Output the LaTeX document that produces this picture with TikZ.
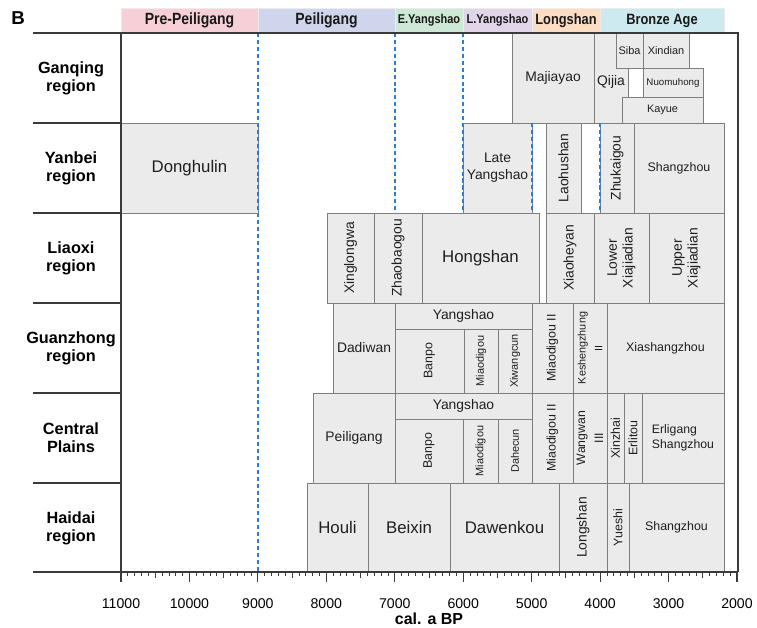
\documentclass[tikz,border=0pt]{standalone}
\usepackage{fontspec}
\usepackage{graphicx}
\setmainfont{Liberation Sans}
\definecolor{boxfill}{HTML}{EBEBEC}
\definecolor{boxline}{HTML}{7E7E7E}
\definecolor{frameline}{HTML}{3A3A3A}
\definecolor{dashblue}{HTML}{2A7FD0}
\definecolor{hPre}{HTML}{F7CFD6}
\definecolor{hPei}{HTML}{CFD5EA}
\definecolor{hEY}{HTML}{CDE8D5}
\definecolor{hLY}{HTML}{E0D5E9}
\definecolor{hLS}{HTML}{FCDCC3}
\definecolor{hBA}{HTML}{CDEAF0}
\tikzset{
  boxst/.style={fill=boxfill, draw=boxline, line width=0.75pt},
  lbl/.style={inner sep=0pt, align=center, text=black!88},
  vert/.style={lbl, rotate=90},
  fXL/.style={font=\fontsize{12.6}{14}\selectfont},
  fL/.style={font=\fontsize{10.4}{12.8}\selectfont},
  fM/.style={font=\fontsize{9.3}{11.5}\selectfont},
  fS/.style={font=\fontsize{8.2}{10}\selectfont},
  fXS/.style={font=\fontsize{7.3}{9}\selectfont},
  region/.style={inner sep=0pt, align=center, font=\bfseries\fontsize{12.2}{13.6}\selectfont},
  frame/.style={draw=frameline, line width=0.9pt},
  vdash/.style={draw=dashblue, line width=0.8pt, dash pattern=on 3pt off 2.2pt},
  band/.style={draw=white!85!gray, line width=0.4pt},
  htext/.style={inner sep=0pt, text=black!90},
}
\newcommand{\cbox}[7]{%
  \draw[boxst] (#2,#3) rectangle (#4,#5);
  \node[#6] (#1) at ({(#2+#4)/2},{(#3+#5)/2}) {#7};}
\newcommand{\hband}[6]{%
  \fill[#4] (#2,8) rectangle (#3,32);
  \draw[band] (#2,8) rectangle (#3,32);
  \node[htext] (#1) at ({(#2+#3)/2},20.5) {\bfseries\fontsize{#5}{#5}\selectfont\scalebox{0.86}[1]{#6}};}
\begin{document}
\begin{tikzpicture}[x=0.75pt,y=-0.75pt]
\useasboundingbox (0,0) rectangle (757,628);
% panel letter
\node[inner sep=0pt, font=\bfseries\fontsize{14}{14}\selectfont] (B) at (18,18) {B};
% header bands
\hband{hpre}{121}{258}{hPre}{12.2}{Pre-Peiligang}
\hband{hpei}{258}{395}{hPei}{12.2}{Peiligang}
\hband{hey}{395}{463}{hEY}{9.6}{E.Yangshao}
\hband{hly}{463}{532}{hLY}{9.6}{L.Yangshao}
\hband{hls}{532}{600}{hLS}{11.2}{Longshan}
\hband{hba}{600}{724}{hBA}{11.2}{Bronze Age}
% dashed period lines
\foreach \xx/\nm in {258/d9,395/d7,463/d6,532/d5,600/d4}{
  \coordinate (\nm t) at (\xx,33);
  \coordinate (\nm b) at (\xx,572);
  \draw[vdash] (\nm t) -- (\nm b);
}
% ---- Ganqing
\cbox{majiayao}{512}{33}{594}{123}{lbl,fL}{Majiayao}
\draw[boxst] (594,33) rectangle (628,123);
\node[lbl,fL] (qijia) at (611,82) {Qijia};
\cbox{siba}{616}{33}{643}{68}{lbl,fS}{Siba}
\cbox{xindian}{643}{33}{689}{68}{lbl,fS}{Xindian}
\cbox{nuomuhong}{643}{68}{703}{97}{lbl,fXS}{Nuomuhong}
\cbox{kayue}{622}{97}{703}{123}{lbl,fS}{Kayue}
% ---- Yanbei
\cbox{donghulin}{121}{123}{258}{213}{lbl,fXL}{Donghulin}
\cbox{lateys}{463}{123}{532}{213}{lbl,fL}{Late\\Yangshao}
\cbox{laohushan}{546}{123}{581}{213}{vert,fL}{Laohushan}
\cbox{zhukaigou}{600}{123}{634}{213}{vert,fL}{Zhukaigou}
\cbox{shangzhouy}{634}{123}{724}{213}{lbl,fM}{Shangzhou}
% dashed lines over coinciding box edges in the Yanbei row
\foreach \xx/\nm in {258/e9,463/e6,532/e5,600/e4}{
  \coordinate (\nm t) at (\xx,123);
  \coordinate (\nm b) at (\xx,213);
  \draw[vdash] (\nm t) -- (\nm b);
}
% ---- Liaoxi
\cbox{xinglongwa}{327}{213}{374}{303}{vert,fL}{Xinglongwa}
\cbox{zhaobaogou}{374}{213}{422}{303}{vert,fL}{Zhaobaogou}
\cbox{hongshan}{422}{213}{539}{303}{lbl,fXL}{Hongshan}
\cbox{xiaoheyan}{546}{213}{594}{303}{vert,fL}{Xiaoheyan}
\cbox{lowerxjd}{594}{213}{649}{303}{vert,font=\fontsize{10.4}{11.8}\selectfont}{Lower\\Xiajiadian}
\cbox{upperxjd}{649}{213}{724}{303}{vert,font=\fontsize{10.4}{11.8}\selectfont}{Upper\\Xiajiadian}
% ---- Guanzhong
\cbox{dadiwan}{333}{303}{395}{393}{lbl,fL}{Dadiwan}
\cbox{yangshaog}{395}{303}{532}{329}{lbl,fL}{Yangshao}
\cbox{banpog}{395}{329}{464}{393}{vert,fM}{Banpo}
\cbox{miaodigoug}{464}{329}{498}{393}{vert,fS}{Miaodigou}
\cbox{xiwangcun}{498}{329}{532}{393}{vert,fS}{Xiwangcun}
\cbox{miaodigouiig}{532}{303}{573}{393}{vert,fM}{Miaodigou II}
\cbox{keshengzhung}{573}{303}{607}{393}{vert,font=\fontsize{8.1}{12.5}\selectfont}{Keshengzhung\\II}
\cbox{xiashangzhou}{607}{303}{724}{393}{lbl,fM}{Xiashangzhou}
% ---- Central Plains
\cbox{peiligang}{313}{393}{395}{483}{lbl,fL}{Peiligang}
\cbox{yangshaoc}{395}{393}{532}{419}{lbl,fL}{Yangshao}
\cbox{banpoc}{395}{419}{463}{483}{vert,fM}{Banpo}
\cbox{miaodigouc}{463}{419}{498}{483}{vert,fS}{Miaodigou}
\cbox{dahecun}{498}{419}{532}{483}{vert,fS}{Dahecun}
\cbox{miaodigouiic}{532}{393}{573}{483}{vert,fM}{Miaodigou II}
\cbox{wangwan}{573}{393}{607}{483}{vert,font=\fontsize{9.2}{13.5}\selectfont}{Wangwan\\III}
\cbox{xinzhai}{607}{393}{624}{483}{vert,fM}{Xinzhai}
\cbox{erlitou}{624}{393}{642}{483}{vert,fM}{Erlitou}
\cbox{erligang}{642}{393}{724}{483}{lbl,align=left,font=\fontsize{9.2}{11.3}\selectfont}{Erligang\\Shangzhou}
% ---- Haidai
\cbox{houli}{307}{483}{368}{572}{lbl,fXL}{Houli}
\cbox{beixin}{368}{483}{450}{572}{lbl,fXL}{Beixin}
\cbox{dawenkou}{450}{483}{559}{572}{lbl,fXL}{Dawenkou}
\cbox{longshanh}{559}{483}{607}{572}{vert,fL}{Longshan}
\cbox{yueshi}{607}{483}{629}{572}{vert,fM}{Yueshi}
\cbox{shangzhouh}{629}{483}{724}{572}{lbl,fM}{Shangzhou}
% frame
\coordinate (ftl) at (33,33);
\coordinate (ftr) at (738,33);
\coordinate (fbl) at (33,572);
\coordinate (fbr) at (738,572);
\coordinate (fil) at (121,33);
\coordinate (fib) at (121,572);
\draw[frame] (ftl) -- (ftr) -- (fbr);
\draw[frame] (fbl) -- (fbr);
\draw[frame] (fil) -- (fib);
\foreach \yy in {123,213,303,393,483}{
  \draw[frame] (33,\yy) -- (121,\yy);
}
% region labels
\node[region] (rg) at (71,78) {Ganqing\\region};
\node[region] (ry) at (71,168) {Yanbei\\region};
\node[region] (rl) at (71,258) {Liaoxi\\region};
\node[region] (rgz) at (71,348) {Guanzhong\\region};
\node[region] (rc) at (71,438) {Central\\Plains};
\node[region] (rh) at (71,528) {Haidai\\region};
% axis ticks
\foreach \k in {0,...,90}{
  \pgfmathsetmacro{\tx}{121+\k*6.8444}
  \pgfmathtruncatemacro{\mA}{mod(\k,10)}
  \pgfmathtruncatemacro{\mB}{mod(\k,5)}
  \ifnum\mA=0
    \draw[frame, line width=0.8pt] (\tx,572) -- (\tx,582);
  \else\ifnum\mB=0
    \draw[frame, line width=0.7pt] (\tx,572) -- (\tx,578);
  \else
    \draw[frame, line width=0.6pt] (\tx,572) -- (\tx,575.5);
  \fi\fi
}
\foreach \k/\lab in {0/11000,1/10000,2/9000,3/8000,4/7000,5/6000,6/5000,7/4000,8/3000,9/2000}{
  \node[inner sep=0pt, font=\fontsize{10.6}{12}\selectfont] (ax\k) at ({121+\k*68.444},604) {\lab};
}
\node[inner sep=0pt, font=\bfseries\fontsize{12}{12}\selectfont] (axt) at (429,619) {cal. a BP};
\end{tikzpicture}
\end{document}
